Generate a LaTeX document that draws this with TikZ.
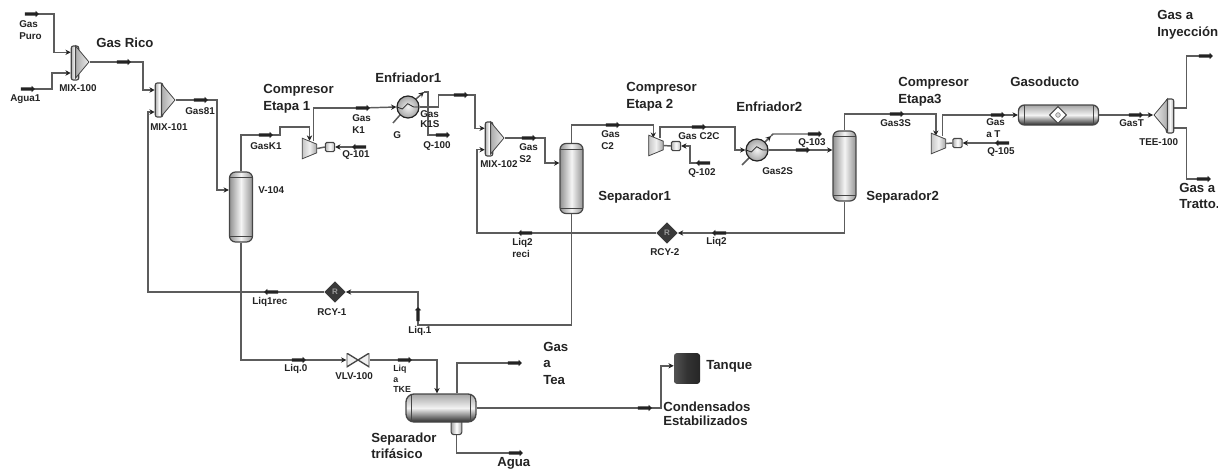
\documentclass[tikz,border=0pt]{standalone}
\usepackage{fontspec}
\setmainfont{Liberation Sans}
\usepackage{tikz}
\usetikzlibrary{arrows.meta, shapes.geometric, shapes.arrows, backgrounds}
\definecolor{pipegray}{RGB}{92,92,92}
\definecolor{inkgray}{RGB}{35,35,35}
\definecolor{bodydark}{RGB}{70,70,70}

\begin{document}
\begin{tikzpicture}[
    x=0.75pt, y=-0.75pt,
    pipe/.style={line width=1.1pt, pipegray},
    feed/.style={pipe, -{Stealth[length=4pt,width=4pt,inkgray]}},
    flag/.style={single arrow, fill=inkgray, draw=none, inner sep=0.75pt, outer sep=0pt,
                 minimum height=10.5pt, minimum width=4.6pt, single arrow head extend=0.9pt},
    flagl/.style={flag, shape border rotate=180},
    flagu/.style={flag, shape border rotate=90},
    lab/.style={font=\fontsize{7.4}{8.6}\selectfont\bfseries, text=inkgray, anchor=west,
                align=left, inner sep=0pt},
    big/.style={lab, font=\fontsize{9.9}{12.4}\selectfont\bfseries},
    vessel/.style={rectangle, rounded corners=4.5pt, draw=bodydark, line width=0.9pt, inner sep=0pt,
                   minimum width=17.25pt, minimum height=52.5pt,
                   left color=gray!85, right color=gray!85, middle color=gray!8,
                   path picture={
                       \draw[bodydark, line width=0.5pt] ([yshift=-4pt]path picture bounding box.north west) -- ([yshift=-4pt]path picture bounding box.north east);
                       \draw[bodydark, line width=0.5pt] ([yshift=4pt]path picture bounding box.south west) -- ([yshift=4pt]path picture bounding box.south east);
                   }},
    drum/.style={rectangle, rounded corners=4.5pt, draw=bodydark, line width=1pt, inner sep=0pt,
                 top color=gray!70, bottom color=gray!35!black, middle color=gray!10,
                 path picture={
                     \draw[bodydark, line width=0.5pt] ([xshift=4pt]path picture bounding box.north west) -- ([xshift=4pt]path picture bounding box.south west);
                     \draw[bodydark, line width=0.5pt] ([xshift=-4pt]path picture bounding box.north east) -- ([xshift=-4pt]path picture bounding box.south east);
                 }},
    cone/.style={isosceles triangle, isosceles triangle stretches, inner sep=0pt, draw=bodydark, line width=0.6pt,
                 minimum width=24pt, minimum height=10pt,
                 left color=gray!65, right color=gray!15},
    bar/.style={rectangle, rounded corners=1.5pt, draw=bodydark, line width=0.8pt, inner sep=0pt,
                minimum width=5.6pt, minimum height=25.5pt,
                left color=gray!60, right color=gray!60, middle color=gray!5},
    comp/.style={trapezium, trapezium stretches=true, rotate=-90, trapezium left angle=55, trapezium right angle=55,
                 inner sep=1pt, draw=bodydark, line width=0.6pt, minimum width=15.5pt, minimum height=11pt,
                 left color=gray!45, right color=gray!70, middle color=gray!12},
    shaft/.style={rectangle, rounded corners=1pt, draw=bodydark, line width=0.8pt, inner sep=0pt,
                  minimum width=7pt, minimum height=6.8pt, left color=gray!60, right color=gray!60, middle color=white},
    cooler/.style={circle, draw=inkgray, line width=0.9pt, inner sep=0pt, minimum size=16.5pt,
                   inner color=gray!10, outer color=gray!70,
                   path picture={
                       \draw[inkgray, line width=0.6pt] (path picture bounding box.west) -- ++(4pt,-1.5pt) -- ++(4pt,4pt) -- ++(4.5pt,-2.5pt) -- (path picture bounding box.east);
                   }},
    recycle/.style={diamond, aspect=1, fill=gray!45!black, inner sep=0pt, minimum size=16pt,
                    text=gray!80, font=\fontsize{6}{6}\selectfont\bfseries},
    valve/.style={rectangle, inner sep=0pt, minimum width=17pt, minimum height=10.5pt,
                  path picture={
                      \draw[bodydark, fill=gray!12, line width=1pt] (path picture bounding box.north west) -- (path picture bounding box.south east)
                          -- (path picture bounding box.north east) -- (path picture bounding box.south west) -- cycle;
                  }},
]
    \useasboundingbox (0,0) rectangle (1218,468);

    \node[bar] (MIX100b) at (75,63) {};
    \node[cone, anchor=apex] (MIX100) at (90,62) {};
    \node[bar] (MIX101b) at (159,100) {};
    \node[cone, anchor=apex] (MIX101) at (176,100) {};
    \node[bar] (MIX102b) at (489,139) {};
    \node[cone, anchor=apex] (MIX102) at (505,138) {};
    \node[bar] (TEE100b) at (1170,116) {};
    \node[cone, shape border rotate=180, anchor=apex, right color=gray!65, left color=gray!15] (TEE100) at (1153,115) {};

    \node[vessel] (V104) at (241,207) {};
    \node[vessel] (Sep1) at (571.5,178.5) {};
    \node[vessel] (Sep2) at (844.5,166) {};
    \node[drum, minimum width=60pt, minimum height=15pt] (Gaso) at (1058.5,115) {};
    \node[diamond, aspect=1, draw=bodydark, fill=white, line width=0.8pt, inner sep=0pt, minimum size=13pt] (GasoMark) at (1058,115) {};
    \node[circle, draw=gray, fill=gray!30, inner sep=0pt, minimum size=3.5pt] (GasoDot) at (1058,115) {};
    \node[rectangle, rounded corners=2pt, draw=bodydark, line width=0.8pt, inner sep=0pt, minimum width=8pt, minimum height=13pt,
          left color=gray!70, right color=gray!70, middle color=white] (Boot) at (456.5,426) {};
    \node[drum, minimum width=52.5pt, minimum height=21pt, rounded corners=6pt] (Sep3) at (441,408) {};
    \node[rectangle, rounded corners=2pt, inner sep=0pt, minimum width=19.5pt, minimum height=23pt,
          left color=gray!65!black, right color=black!85, middle color=gray!40!black] (Tank) at (687,368.5) {};

    \node[comp] (K1) at (309.5,148.5) {};
    \node[shaft] (K1box) at (330,147) {};
    \node[comp] (K2) at (656,145.5) {};
    \node[shaft] (K2box) at (676,146) {};
    \node[comp] (K3) at (938.5,143.5) {};
    \node[shaft] (K3box) at (957.5,143) {};
    \node[cooler] (E1) at (408,107) {};
    \node[cooler] (E2) at (757,150) {};
    \node[recycle] (RCY1) at (335,292) {R};
    \node[recycle] (RCY2) at (667,233) {R};
    \node[valve] (VLV100) at (358,360) {};

    \node[flag] (fPuro) at (31,14) {};
    \node[flag] (fAgua1) at (27,89) {};
    \node[flag] (fRico) at (123,62) {};
    \node[flag] (fGas81) at (200,100) {};
    \node[flag] (fGasK1) at (265,135) {};
    \node[flag] (fK1) at (362,108) {};
    \node[flagl] (fQ101) at (360,147) {};
    \node[flag] (fQ100) at (442,135) {};
    \node[flag] (fK1S) at (460,95) {};
    \node[flag] (fS2) at (528,138) {};
    \node[flag] (fC2) at (612,125) {};
    \node[flag] (fC2C) at (698,127) {};
    \node[flagl] (fQ102) at (704,163) {};
    \node[flag] (fQ103) at (814,134) {};
    \node[flag] (fGas2S) at (802,150) {};
    \node[flag] (fGas3S) at (896,114) {};
    \node[flag] (fGasaT) at (997,115) {};
    \node[flagl] (fQ105) at (1003,143) {};
    \node[flag] (fGasT) at (1135,115) {};
    \node[flag] (fInye) at (1205,56) {};
    \node[flag] (fTratto) at (1203,179) {};
    \node[flagl] (fLiq2) at (720,233) {};
    \node[flagl] (fReci) at (526,233) {};
    \node[flagl] (fLiq1rec) at (272,292) {};
    \node[flagu] (fLiq1) at (418,315) {};
    \node[flag] (fLiq0) at (298,360) {};
    \node[flag] (fTKE) at (404,360) {};
    \node[flag] (fTea) at (514,363) {};
    \node[flag] (fAgua) at (515,453) {};
    \node[flag] (fCond) at (644,408) {};

    \coordinate (E1q) at (424,92);
    \coordinate (E1g) at (393,123);
    \coordinate (E2q) at (771,136);
    \coordinate (E2g) at (742,165);
    \coordinate (L1elbow) at (418,325);

    \begin{scope}[on background layer]
        \draw[feed] (fPuro.center) -- ++(23,0) |- ([yshift=8pt]MIX100b.west);
        \draw[feed] (fAgua1.center) -- ++(25,0) |- ([yshift=-7.5pt]MIX100b.west);
        \draw[pipe] (MIX100.apex) -- (fRico.center);
        \draw[feed] (fRico.center) -- ++(20,0) |- ([yshift=7.5pt]MIX101b.west);
        \draw[pipe] (MIX101.apex) -- (fGas81.center);
        \draw[feed] (fGas81.center) -- ++(17,0) |- ([yshift=12.75pt]V104.west);
        \draw[pipe] (V104.north) |- (fGasK1.center);
        \draw[feed] (fGasK1.center) -- ++(15,0) -- ++(0,-8) -| (K1.west);
        \draw[pipe] ([xshift=3pt]K1.west) |- (fK1.center);
        \draw[feed] (fK1.center) -- (E1.west);
        \draw[pipe] (K1.north) -- (K1box.west);
        \draw[feed] (fQ101.center) -- (K1box.east);
        \draw[pipe] (E1g) -- (E1.south west);
        \draw[feed] (E1.north east) -- (E1q);
        \draw[pipe] (E1q) -- ++(4,0) |- (fQ100.center);
        \draw[pipe] (E1.east) -- ++(19,0) |- (fK1S.center);
        \draw[feed] (fK1S.center) -- ++(15,0) |- ([yshift=8pt]MIX102b.west);
        \draw[pipe] (MIX102.apex) -- (fS2.center);
        \draw[feed] (fS2.center) -- ++(17,0) |- ([yshift=11.6pt]Sep1.west);
        \draw[pipe] (Sep1.north) |- (fC2.center);
        \draw[feed] (fC2.center) -| ([xshift=-2pt]K2.west);
        \draw[pipe] ([xshift=3pt]K2.west) |- (fC2C.center);
        \draw[feed] (fC2C.center) -- ++(37,0) |- (E2.west);
        \draw[pipe] (K2.north) -- (K2box.west);
        \draw[feed] (fQ102.center) -- ++(-14,0) |- (K2box.east);
        \draw[pipe] (E2g) -- (E2.south west);
        \draw[feed] (E2.north east) -- (E2q);
        \draw[pipe] (E2q) -- ++(2,-2) -- (fQ103.center);
        \draw[pipe] (E2.east) -- (fGas2S.center);
        \draw[feed] (fGas2S.center) -- ([yshift=12pt]Sep2.west);
        \draw[pipe] (Sep2.north) |- (fGas3S.center);
        \draw[feed] (fGas3S.center) -| ([xshift=-2pt]K3.west);
        \draw[pipe] ([xshift=3pt]K3.west) |- (fGasaT.center);
        \draw[feed] (fGasaT.center) -- (Gaso.west);
        \draw[pipe] (K3.north) -- (K3box.west);
        \draw[feed] (fQ105.center) -- (K3box.east);
        \draw[pipe] (Gaso.east) -- (fGasT.center);
        \draw[feed] (fGasT.center) -- (TEE100.apex);
        \draw[pipe] ([yshift=6pt]TEE100b.east) -- ++(12,0) |- (fInye.center);
        \draw[pipe] ([yshift=-9pt]TEE100b.east) -- ++(12,0) |- (fTratto.center);
        \draw[pipe] (Sep2.south) |- (fLiq2.center);
        \draw[feed] (fLiq2.center) -- (RCY2.east);
        \draw[pipe] (RCY2.west) -- (fReci.center);
        \draw[feed] (fReci.center) -- ++(-49,0) |- ([yshift=-8pt]MIX102b.west);
        \draw[pipe] (Sep1.south) |- (L1elbow) -- (fLiq1.center);
        \draw[feed] (fLiq1.center) |- (RCY1.east);
        \draw[pipe] (RCY1.west) -- (fLiq1rec.center);
        \draw[feed] (fLiq1rec.center) -- ++(-124,0) |- ([yshift=-9pt]MIX101b.west);
        \draw[pipe] (V104.south) |- (fLiq0.center);
        \draw[feed] (fLiq0.center) -- (VLV100.west);
        \draw[pipe] (VLV100.east) -- (fTKE.center);
        \draw[feed] (fTKE.center) -| ([xshift=-3pt]Sep3.north);
        \draw[pipe] ([xshift=12pt]Sep3.north) |- (fTea.center);
        \draw[pipe] (Boot.south) |- (fAgua.center);
        \draw[pipe] (Sep3.east) -- (fCond.center);
        \draw[feed] (fCond.center) -- ++(17,0) |- ([yshift=2pt]Tank.west);
    \end{scope}

    \node[lab] (lPuro) at (19,30) {Gas\\Puro};
    \node[lab] (lAgua1) at (10,99) {Agua1};
    \node[lab] (lMIX100) at (59,88) {MIX-100};
    \node[big] (lRico) at (96,43) {Gas Rico};
    \node[lab] (lMIX101) at (150,127) {MIX-101};
    \node[lab] (lGas81) at (185,111) {Gas81};
    \node[lab] (lGasK1) at (250,146) {GasK1};
    \node[lab] (lV104) at (258,190) {V-104};
    \node[big] (lEtapa1) at (263,99) {Compresor\\Etapa 1};
    \node[lab] (lK1) at (352,124) {Gas\\K1};
    \node[lab] (lG) at (393,135) {G};
    \node[big] (lEnf1) at (375,78) {Enfriador1};
    \node[lab, font=\fontsize{7.4}{8}\selectfont\bfseries] (lK1S) at (420,119) {Gas\\K1S};
    \node[lab] (lQ100) at (423,146) {Q-100};
    \node[lab] (lQ101) at (342,155) {Q-101};
    \node[lab] (lMIX102) at (480,164) {MIX-102};
    \node[lab] (lS2) at (519,153) {Gas\\S2};
    \node[lab] (lReci) at (512,248) {Liq2\\reci};
    \node[lab] (lC2) at (601,140) {Gas\\C2};
    \node[big] (lEtapa2) at (626,97) {Compresor\\Etapa 2};
    \node[lab] (lC2C) at (678,136) {Gas C2C};
    \node[lab] (lQ102) at (688,173) {Q-102};
    \node[big] (lEnf2) at (736,107) {Enfriador2};
    \node[lab] (lQ103) at (798,143) {Q-103};
    \node[lab] (lGas2S) at (762,171) {Gas2S};
    \node[big] (lSep1) at (598,197) {Separador1};
    \node[big] (lSep2) at (866,197) {Separador2};
    \node[lab] (lRCY2) at (650,252) {RCY-2};
    \node[lab] (lLiq2) at (706,242) {Liq2};
    \node[big] (lEtapa3) at (898,92) {Compresor\\Etapa3};
    \node[lab] (lGas3S) at (880,123) {Gas3S};
    \node[lab] (lGasaT) at (986,128) {Gas\\a T};
    \node[lab] (lQ105) at (987,152) {Q-105};
    \node[big] (lGaso) at (1010,82) {Gasoducto};
    \node[lab] (lGasT) at (1119,123) {GasT};
    \node[lab] (lTEE100) at (1139,142) {TEE-100};
    \node[big] (lInye) at (1157,25) {Gas a\\Inyección};
    \node[big] (lTratto) at (1179,196) {Gas a\\Tratto.};
    \node[lab] (lLiq1rec) at (252,302) {Liq1rec};
    \node[lab] (lRCY1) at (317,312) {RCY-1};
    \node[lab] (lLiq1) at (408,331) {Liq.1};
    \node[lab] (lLiq0) at (284,369) {Liq.0};
    \node[lab] (lVLV100) at (335,376) {VLV-100};
    \node[lab, font=\fontsize{6.6}{7.8}\selectfont\bfseries] (lTKE) at (393,379) {Liq\\a\\TKE};
    \node[big] (lTea) at (543,363) {Gas\\a\\Tea};
    \node[big] (lTrif) at (371,446) {Separador\\trifásico};
    \node[big] (lAgua) at (497,463) {Agua};
    \node[big] (lTanque) at (706,366) {Tanque};
    \node[big, font=\fontsize{9.9}{10.6}\selectfont\bfseries] (lCond) at (663,414) {Condensados\\Estabilizados};
\end{tikzpicture}
\end{document}
